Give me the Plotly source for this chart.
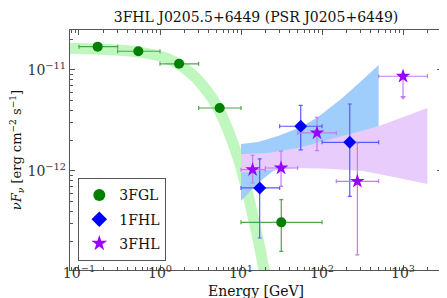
import plotly.graph_objects as go

# ---------------- data (GeV, erg cm^-2 s^-1) ----------------
fgl_E = [0.17, 0.54, 1.72, 5.45, 31.4]
fgl_Elo = [0.1, 0.3, 1.0, 3.0, 10.0]
fgl_Ehi = [0.3, 1.0, 3.0, 10.0, 100.0]
fgl_F = [1.70e-11, 1.53e-11, 1.15e-11, 4.2e-12, 3.1e-13]
fgl_Flo = [1.70e-11, 1.53e-11, 1.15e-11, 4.2e-12, 1.6e-13]
fgl_Fhi = [1.70e-11, 1.53e-11, 1.15e-11, 4.2e-12, 5.2e-13]

fhl1_E = [17.0, 54.6, 220.0]
fhl1_Elo = [10.0, 30.0, 100.0]
fhl1_Ehi = [30.0, 100.0, 500.0]
fhl1_F = [6.8e-13, 2.77e-12, 1.92e-12]
fhl1_Flo = [2.17e-13, 1.62e-12, 5.6e-13]
fhl1_Fhi = [1.32e-12, 4.45e-12, 4.6e-12]

fhl3_E = [13.9, 31.2, 86.7, 273.0, 1000.0]
fhl3_Elo = [10.0, 20.0, 50.0, 150.0, 500.0]
fhl3_Ehi = [20.0, 50.0, 150.0, 500.0, 2000.0]
fhl3_F = [1.03e-12, 1.07e-12, 2.38e-12, 7.9e-13, 8.66e-12]
fhl3_Flo = [7.6e-13, 7.05e-13, 1.59e-12, 1.48e-13, 5.37e-12]
fhl3_Fhi = [1.43e-12, 1.57e-12, 3.4e-12, 1.89e-12, 8.66e-12]
fhl3_ul = [False, False, False, False, True]

# 3FGL model band (centre line)
fgl_band_E = [0.055, 0.167, 0.535, 1.256, 2.22, 3.40, 5.20, 9.18, 13.3, 19.2, 21.5]
fgl_band_F = [1.65e-11, 1.61e-11, 1.51e-11, 1.29e-11, 9.77e-12, 6.95e-12,
              4.21e-12, 1.35e-12, 4.31e-13, 1.05e-13, 5.5e-14]

# 1FHL butterfly (upper edge then lower edge)
fhl1_band_E_up = [10.0, 16.2, 28.6, 55.1, 89.3, 172.0, 278.0, 500.0]
fhl1_band_F_up = [1.85e-12, 1.94e-12, 2.22e-12, 2.73e-12, 3.43e-12, 5.16e-12, 7.26e-12, 1.12e-11]
fhl1_band_E_lo = [500.0, 158.0, 50.6, 24.8, 16.2, 10.0]
fhl1_band_F_lo = [1.12e-12, 1.17e-12, 1.15e-12, 1.0e-12, 7.6e-13, 5.05e-13]

# 3FHL butterfly
fhl3_band_E_up = [10.0, 21.5, 50.6, 118.6, 321.0, 506.0, 2000.0]
fhl3_band_F_up = [1.47e-12, 1.51e-12, 1.69e-12, 2.03e-12, 2.49e-12, 2.79e-12, 4.21e-12]
fhl3_band_E_lo = [2000.0, 506.0, 321.0, 118.6, 50.6, 21.5, 10.0]
fhl3_band_F_lo = [7.43e-13, 9.33e-13, 1.0e-12, 1.05e-12, 1.07e-12, 1.02e-12, 9.6e-13]

x_tickvals = [0.1, 1, 10, 100, 1000]
x_ticktext = ['10<sup>−1</sup>', '10<sup>0</sup>', '10<sup>1</sup>', '10<sup>2</sup>', '10<sup>3</sup>']
y_tickvals = [1e-12, 1e-11]
y_ticktext = ['10<sup>−12</sup>', '10<sup>−11</sup>']

FONT = 'DejaVu Serif'
GREEN, BLUE, PURPLE = '#008000', '#0000ff', '#9900ff'
GREEN_E, BLUE_E, PURPLE_E = '#4aa84a', '#5a5aff', '#c27af5'

fig = go.Figure()

# bands
fig.add_trace(go.Scatter(x=fgl_band_E, y=fgl_band_F, mode='lines', line=dict(color='#bff7bf', width=11, shape='spline'),
                         showlegend=False, hoverinfo='skip'))
fig.add_trace(go.Scatter(x=fhl1_band_E_up + fhl1_band_E_lo, y=fhl1_band_F_up + fhl1_band_F_lo,
                         mode='lines', fill='toself', fillcolor='#9fcdfc', line=dict(width=0, color='#9fcdfc'),
                         showlegend=False, hoverinfo='skip'))
fig.add_trace(go.Scatter(x=fhl3_band_E_up + fhl3_band_E_lo, y=fhl3_band_F_up + fhl3_band_F_lo,
                         mode='lines', fill='toself', fillcolor='#e8ccfb', line=dict(width=0, color='#e8ccfb'),
                         showlegend=False, hoverinfo='skip'))


def errs(v, lo, hi):
    return [h - c for c, h in zip(v, hi)], [c - l for c, l in zip(v, lo)]


def add_points(name, E, Elo, Ehi, F, Flo, Fhi, color, ecolor, symbol, size):
    xp, xm = errs(E, Elo, Ehi)
    yp, ym = errs(F, Flo, Fhi)
    fig.add_trace(go.Scatter(
        x=E, y=F, mode='markers', name=name, legendgroup=name,
        marker=dict(color=color, symbol=symbol, size=size, line=dict(width=0)),
        error_x=dict(type='data', array=xp, arrayminus=xm, color=ecolor, thickness=1.2, width=2),
        error_y=dict(type='data', array=yp, arrayminus=ym, color=ecolor, thickness=1.2, width=2),
    ))


add_points('3FGL', fgl_E, fgl_Elo, fgl_Ehi, fgl_F, fgl_Flo, fgl_Fhi, GREEN, GREEN_E, 'circle', 10)
add_points('1FHL', fhl1_E, fhl1_Elo, fhl1_Ehi, fhl1_F, fhl1_Flo, fhl1_Fhi, BLUE, BLUE_E, 'diamond', 10)
add_points('3FHL', fhl3_E, fhl3_Elo, fhl3_Ehi, fhl3_F, fhl3_Flo, fhl3_Fhi, PURPLE, PURPLE_E, 'star', 11)

# upper-limit arrow heads
ul_E = [e for e, u in zip(fhl3_E, fhl3_ul) if u]
ul_F = [f for f, u in zip(fhl3_Flo, fhl3_ul) if u]
fig.add_trace(go.Scatter(x=ul_E, y=ul_F, mode='markers', showlegend=False, hoverinfo='skip',
                         marker=dict(symbol='triangle-down', size=5, color=PURPLE_E, line=dict(width=0))))

axis_common = dict(type='log', showline=True, linecolor='#555555', linewidth=1.3, mirror='allticks',
                   ticks='inside', ticklen=5, tickcolor='#555555', tickwidth=1, showgrid=False, zeroline=False,
                   automargin=False, tickfont=dict(family=FONT, size=14, color='#333333'))

x_minor = [m * 10 ** d for d in range(-2, 4) for m in range(2, 10)]
y_minor = [m * 10 ** d for d in range(-14, -10) for m in range(2, 10)]

fig.update_layout(
    width=447, height=298,
    margin=dict(l=62, r=13, t=22, b=36),
    plot_bgcolor='white', paper_bgcolor='white',
    font=dict(family=FONT, color='#111111'),
    title=dict(text='3FHL J0205.5+6449 (PSR J0205+6449)', x=0.5, xref='paper', y=1 - 4 / 298, yref='container',
               yanchor='top', xanchor='center', font=dict(family=FONT, size=14, color='#111111')),
    xaxis=dict(axis_common, range=[-1.111, 3.481], tickmode='array', tickvals=x_tickvals, ticktext=x_ticktext,
               ticklabelstandoff=-10,
               minor=dict(tickvals=x_minor, ticks='inside', ticklen=2.5, tickcolor='#555555')),
    yaxis=dict(axis_common, range=[-12.98, -10.605], tickmode='array', tickvals=y_tickvals, ticktext=y_ticktext,
               ticklabelstandoff=0,
               minor=dict(tickvals=y_minor, ticks='inside', ticklen=2.5, tickcolor='#555555'),
               title=dict(text='<i>νF<sub>ν</sub></i> [erg cm<sup>−2</sup> s<sup>−1</sup>]',
                          font=dict(family=FONT, size=13), standoff=2)),
    legend=dict(x=0.0215, y=0.383, xanchor='left', yanchor='top', bordercolor='#555555', borderwidth=1.3,
                tracegroupgap=3,
                bgcolor='white', font=dict(family=FONT, size=14, color='#111111'), itemsizing='constant'),
    annotations=[dict(text='Energy [GeV]', xref='paper', yref='paper', x=0.5, y=-21 / 240,
                      xanchor='center', yanchor='middle', showarrow=False,
                      font=dict(family=FONT, size=14, color='#111111'))],
)

fig.write_html('out.html')
